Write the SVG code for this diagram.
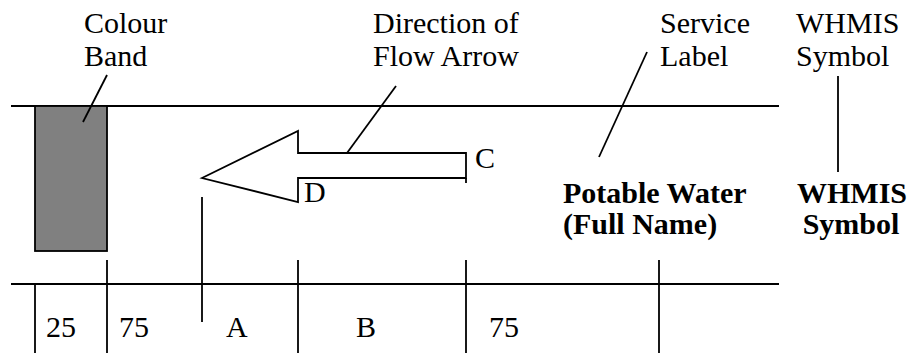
<svg xmlns="http://www.w3.org/2000/svg" width="913" height="353" viewBox="0 0 913 353">
<style>
.ln{stroke:#000;stroke-width:1.8;fill:none}
.t{font-family:"Liberation Serif","Times New Roman",serif;font-size:30px;fill:#000}
.b{font-weight:bold}
</style>
<rect width="913" height="353" fill="#fff"/>
<g id="frame">
<line class="ln" x1="11" y1="106" x2="779" y2="106"/>
<line class="ln" x1="11" y1="284" x2="779" y2="284"/>
</g>
<g id="colour-band">
<rect x="35" y="106" width="72" height="145" fill="#808080" stroke="#000" stroke-width="1.8"/>
<text class="t" x="84" y="33">Colour</text>
<text class="t" x="84" y="66">Band</text>
</g>
<g id="flow-arrow">
<polygon class="ln" points="202,178 298,131 298,153 466,153 466,178 298,178 298,202"/>
<line class="ln" x1="466" y1="178" x2="466" y2="183"/>
<text class="t" x="373" y="33">Direction of</text>
<text class="t" x="373" y="66">Flow Arrow</text>
<text class="t" x="475" y="168">C</text>
<text class="t" x="304" y="202">D</text>
</g>
<g id="service-label">
<text class="t" x="660" y="33">Service</text>
<text class="t" x="660" y="66">Label</text>
<text class="t b" x="563" y="203">Potable Water</text>
<text class="t b" x="563" y="234">(Full Name)</text>
</g>
<g id="whmis">
<text class="t" x="796" y="33">WHMIS</text>
<text class="t" x="796" y="66">Symbol</text>
<text class="t b" x="852" y="203" text-anchor="middle">WHMIS</text>
<text class="t b" x="851" y="234" text-anchor="middle">Symbol</text>
</g>
<g id="dimensions">
<text class="t" x="46" y="337">25</text>
<text class="t" x="119" y="337">75</text>
<text class="t" x="226" y="337">A</text>
<text class="t" x="356" y="337">B</text>
<text class="t" x="489" y="337">75</text>
</g>
<g id="connectors">
<line class="ln" x1="107" y1="75" x2="83" y2="122"/>
<line class="ln" x1="396" y1="86" x2="347" y2="153"/>
<line class="ln" x1="647" y1="52" x2="599" y2="157"/>
<line class="ln" x1="838" y1="76" x2="838" y2="172"/>
<line class="ln" x1="35" y1="284" x2="35" y2="353"/>
<line class="ln" x1="107" y1="260" x2="107" y2="353"/>
<line class="ln" x1="202" y1="197" x2="202" y2="322"/>
<line class="ln" x1="298" y1="260" x2="298" y2="353"/>
<line class="ln" x1="466" y1="260" x2="466" y2="353"/>
<line class="ln" x1="659" y1="260" x2="659" y2="353"/>
</g>
</svg>
